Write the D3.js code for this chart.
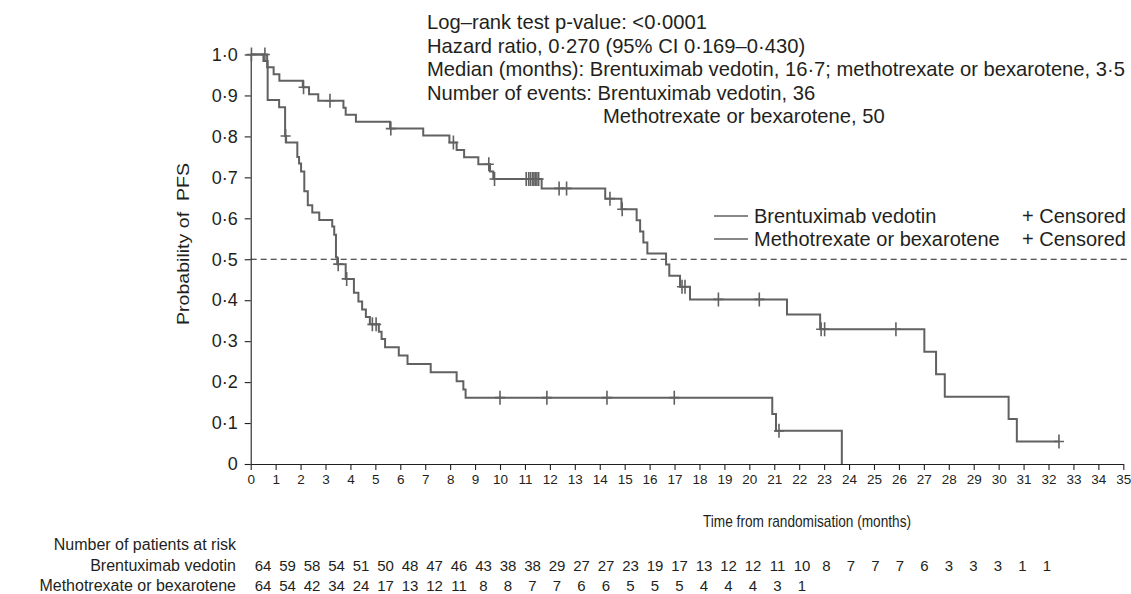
<!DOCTYPE html>
<html>
<head>
<meta charset="utf-8">
<script src="https://cdn.jsdelivr.net/npm/d3@7"></script>
<style>
  html, body { margin: 0; padding: 0; background: #fff; }
  svg { display: block; }
  text { font-family: "Liberation Sans", Arial, Helvetica, sans-serif; fill: #231f20; }
</style>
</head>
<body>
<svg id="chart" width="1131" height="594"></svg>
<script>
// Kaplan–Meier progression-free survival, two treatment arms.

// Brentuximab vedotin: step times (months) and survival after each step
const bvStepTimes = [0.66, 0.92, 1.15, 2.09, 2.34, 2.71, 3.72, 3.81, 4.22, 5.59,
  6.92, 7.97, 8.26, 8.56, 9.13, 9.60, 9.73, 11.67, 14.22, 14.87,
  15.48, 15.62, 15.75, 15.91, 16.66, 16.79, 17.22, 17.62, 21.51, 22.84,
  27.02, 27.49, 27.84, 30.40, 30.73];
const bvStepSurv = [0.969, 0.952, 0.936, 0.920, 0.903, 0.887, 0.870, 0.853, 0.836, 0.819,
  0.802, 0.785, 0.767, 0.749, 0.732, 0.714, 0.696, 0.673, 0.648, 0.622,
  0.595, 0.568, 0.541, 0.514, 0.487, 0.460, 0.433, 0.402, 0.365, 0.329,
  0.274, 0.219, 0.164, 0.110, 0.055];
const bvCensored = [0.03, 0.57, 2.12, 3.18, 5.62, 8.13, 9.55, 9.78,
  11.05, 11.15, 11.22, 11.30, 11.36, 11.42, 11.48, 11.55,
  12.37, 12.67, 14.41, 14.90, 17.30, 17.42, 18.76, 20.40, 22.88, 23.02, 25.88, 32.42];
const bvEnd = 32.42;

// Methotrexate or bexarotene
const mbStepTimes = [0.51, 0.68, 1.14, 1.38, 1.42, 1.87, 1.94, 2.02, 2.15, 2.29,
  2.47, 2.75, 3.27, 3.35, 3.42, 3.47, 3.81, 4.14, 4.32, 4.47,
  4.62, 4.78, 5.14, 5.25, 5.39, 5.94, 6.29, 7.22, 8.26, 8.53,
  8.62, 20.92, 21.07, 23.71];
const mbStepSurv = [0.984, 0.889, 0.871, 0.801, 0.785, 0.750, 0.734, 0.714, 0.666, 0.632,
  0.614, 0.596, 0.580, 0.560, 0.505, 0.488, 0.452, 0.418, 0.397, 0.377,
  0.359, 0.341, 0.323, 0.305, 0.285, 0.265, 0.244, 0.224, 0.202, 0.182,
  0.162, 0.122, 0.081, 0];
const mbCensored = [1.40, 3.51, 3.85, 4.88, 5.03, 10.0, 11.88, 14.29, 16.99, 21.19];
const mbEnd = 23.71;

// Axis ticks
const xTickValues = d3.range(0, 36);
const yTickValues = [0, 0.1, 0.2, 0.3, 0.4, 0.5, 0.6, 0.7, 0.8, 0.9, 1.0];
const yTickLabels = ["0", "0·1", "0·2", "0·3", "0·4", "0·5", "0·6", "0·7", "0·8", "0·9", "1·0"];

// Number of patients at risk, months 0, 1, 2, ...
const bvAtRisk = [64, 59, 58, 54, 51, 50, 48, 47, 46, 43, 38, 38, 29, 27, 27, 23, 19, 17, 13, 12,
  12, 11, 10, 8, 7, 7, 7, 6, 3, 3, 3, 1, 1];
const mbAtRisk = [64, 54, 42, 34, 24, 17, 13, 12, 11, 8, 8, 7, 7, 6, 6, 5, 5, 5, 4, 4, 4, 3, 1];

const seriesNames = ["Brentuximab vedotin", "Methotrexate or bexarotene"];
const statLines = [
  "Log–rank test p-value: <0·0001",
  "Hazard ratio, 0·270 (95% CI 0·169–0·430)",
  "Median (months): Brentuximab vedotin, 16·7; methotrexate or bexarotene, 3·5",
  "Number of events: Brentuximab vedotin, 36"
];
const statLineIndented = "Methotrexate or bexarotene, 50";

const curveColor = "#616161";
const inkColor = "#231f20";

const svg = d3.select("#chart");
const x = d3.scaleLinear().domain([0, 35]).range([250.7, 1123.3]);
const y = d3.scaleLinear().domain([0, 1]).range([464, 54.5]);

// Axes
const xAxis = d3.axisBottom(x).tickValues(xTickValues).tickSize(6).tickSizeOuter(0).tickPadding(4);
const gx = svg.append("g").attr("transform", `translate(0,${y(0)})`).call(xAxis);
gx.selectAll("text").style("font-size", "13.5px").attr("fill", inkColor);

const yAxis = d3.axisLeft(y).tickValues(yTickValues).tickFormat((d, i) => yTickLabels[i])
  .tickSize(6).tickSizeOuter(0).tickPadding(7);
const gy = svg.append("g").attr("transform", `translate(${x(0)},0)`).call(yAxis);
gy.selectAll("text").style("font-size", "18px").attr("fill", inkColor);

svg.selectAll(".domain, .tick line").attr("stroke", inkColor).attr("stroke-width", 1.1);

// Median reference line
svg.append("line")
  .attr("x1", x(0)).attr("x2", x(35.2))
  .attr("y1", y(0.5)).attr("y2", y(0.5))
  .attr("stroke", inkColor).attr("stroke-width", 1).attr("stroke-dasharray", "6,4");

// Step curve builder
function stepPoints(times, surv, end) {
  const pts = [[0, 1]];
  times.forEach((t, i) => { pts.push([t, surv[i]]); });
  const last = pts[pts.length - 1];
  if (end > last[0]) pts.push([end, last[1]]);
  return pts;
}
function survAt(times, surv, t) {
  let s = 1;
  for (let i = 0; i < times.length; i++) { if (times[i] <= t) s = surv[i]; }
  return s;
}
const line = d3.line().x(d => x(d[0])).y(d => y(d[1])).curve(d3.curveStepAfter);

const groups = [
  { times: bvStepTimes, surv: bvStepSurv, cens: bvCensored, end: bvEnd },
  { times: mbStepTimes, surv: mbStepSurv, cens: mbCensored, end: mbEnd }
];

groups.forEach(g => {
  svg.append("path")
    .attr("d", line(stepPoints(g.times, g.surv, g.end)))
    .attr("fill", "none").attr("stroke", curveColor).attr("stroke-width", 2);
  svg.append("g").selectAll("path").data(g.cens).join("path")
    .attr("d", t => {
      const cx = x(t), cy = y(survAt(g.times, g.surv, t));
      return `M${cx - 5},${cy}H${cx + 5}M${cx},${cy - 7}V${cy + 7}`;
    })
    .attr("stroke", curveColor).attr("stroke-width", 1.6).attr("fill", "none");
});

// Statistics block
const stats = svg.append("g").style("font-size", "20.2px");
statLines.forEach((s, i) => {
  stats.append("text").attr("x", 427).attr("y", 29 + i * 23.5).text(s);
});
stats.append("text").attr("x", 603).attr("y", 29 + 4 * 23.5).text(statLineIndented);

// Legend
const legend = svg.append("g").style("font-size", "20px");
seriesNames.forEach((name, i) => {
  const ly = 216 + i * 23;
  legend.append("line").attr("x1", 714).attr("x2", 748).attr("y1", ly).attr("y2", ly)
    .attr("stroke", curveColor).attr("stroke-width", 1.6);
  legend.append("text").attr("x", 754).attr("y", ly + 7).text(name);
  legend.append("text").attr("x", 1022).attr("y", ly + 7).text("+ Censored");
});

// Axis titles (narrow setting)
svg.append("text")
  .attr("x", 703).attr("y", 527)
  .attr("textLength", 208).attr("lengthAdjust", "spacingAndGlyphs")
  .style("font-size", "17px").text("Time from randomisation (months)");
svg.append("text")
  .attr("transform", "translate(189,325) rotate(-90)")
  .attr("textLength", 162).attr("lengthAdjust", "spacingAndGlyphs")
  .style("font-size", "17px").style("white-space", "pre")
  .text("Probability of  PFS");

// Patients at risk table
const riskX = d3.scaleLinear().domain([0, 32]).range([263, 1047]);
const risk = svg.append("g").style("font-size", "15px");
risk.append("text").attr("x", 236).attr("y", 550).attr("text-anchor", "end")
  .style("font-size", "16px").text("Number of patients at risk");
[bvAtRisk, mbAtRisk].forEach((arr, r) => {
  const ry = 571 + r * 20;
  risk.append("text").attr("x", 236).attr("y", ry).attr("text-anchor", "end")
    .style("font-size", "16px").text(seriesNames[r]);
  risk.append("g").selectAll("text").data(arr).join("text")
    .attr("x", (d, i) => riskX(i)).attr("y", ry).attr("text-anchor", "middle").text(d => d);
});
</script>
</body>
</html>
